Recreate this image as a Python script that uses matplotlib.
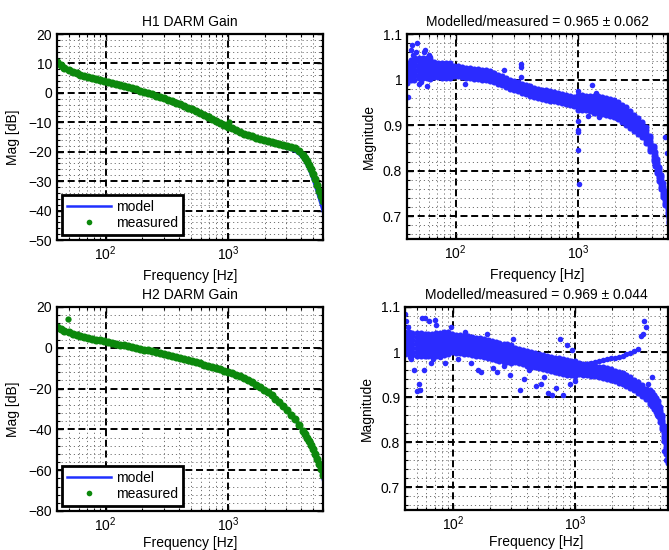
import numpy as np
import matplotlib
matplotlib.use('Agg')
import matplotlib.pyplot as plt
from matplotlib.ticker import LogLocator, MultipleLocator, NullFormatter, FuncFormatter

plt.rcParams['font.family'] = ['Liberation Sans', 'DejaVu Sans']
plt.rcParams['font.size'] = 10

# swept-sine frequency points [Hz]
freq = [40, 43, 46, 50, 54, 58, 62, 67, 72, 78,
        84, 90, 97, 105, 113, 122, 131, 141, 152, 164,
        177, 191, 206, 222, 239, 258, 278, 300, 323, 348,
        375, 405, 436, 470, 507, 546, 589, 635, 684, 737,
        795, 857, 924, 996, 1074, 1157, 1248, 1345, 1450, 1563,
        1685, 1816, 1958, 2110, 2275, 2452, 2643, 2850, 3072, 3311,
        3569, 3848, 4148, 4300, 4471, 4640, 4820, 5000, 5195, 5400,
        5600, 5800, 6000]

# H1 model gain [dB] and modelled/measured ratio
h1_model_db = [10.6, 9.6, 8.7, 8.0, 7.3, 6.8, 6.3, 5.9, 5.5, 5.2,
               4.9, 4.6, 4.3, 4.0, 3.6, 3.2, 2.8, 2.5, 2.1, 1.7,
               1.3, 0.8, 0.4, 0.0, -0.5, -1.0, -1.5, -2.0, -2.4, -3.0,
               -3.5, -4.1, -4.7, -5.3, -5.9, -6.5, -7.2, -7.8, -8.5, -9.1,
               -9.8, -10.5, -11.2, -11.9, -12.5, -13.1, -13.7, -14.3, -14.8, -15.3,
               -15.8, -16.3, -16.7, -17.1, -17.5, -17.9, -18.2, -18.6, -19.0, -19.4,
               -20.0, -21.0, -22.6, -23.7, -25.0, -26.5, -28.2, -30.0, -32.0, -34.1,
               -36.3, -38.4, -40.5]
h1_ratio = [1.015, 1.020, 1.022, 1.025, 1.025, 1.025, 1.024, 1.022, 1.021, 1.020,
            1.020, 1.020, 1.019, 1.018, 1.016, 1.015, 1.014, 1.013, 1.012, 1.011,
            1.009, 1.007, 1.004, 1.001, 0.998, 0.994, 0.990, 0.987, 0.984, 0.981,
            0.978, 0.975, 0.972, 0.970, 0.968, 0.966, 0.964, 0.962, 0.960, 0.958,
            0.956, 0.954, 0.952, 0.950, 0.950, 0.949, 0.948, 0.946, 0.945, 0.943,
            0.941, 0.939, 0.936, 0.932, 0.926, 0.920, 0.913, 0.905, 0.898, 0.890,
            0.878, 0.860, 0.838, 0.825, 0.810, 0.793, 0.775, 0.757, 0.740, 0.720,
            0.700, 0.680, 0.660]
h1_spread = [0.022]*7 + [0.016]*5 + [0.011]*10 + [0.010]*21 + [0.016]*4 + [0.019]*10 + [0.017]*6 + [0.015]*10
h1_out_f = [41, 43, 44, 45, 46, 47, 48, 50, 52, 55, 56, 58, 60, 62, 120, 250, 345, 345, 345,
            1000, 1005, 1010, 1010, 1015, 1000, 1300, 1400, 1200, 1500, 1600, 5170, 5300]
h1_out_r = [0.962, 1.065, 1.075, 1.055, 1.050, 1.060, 1.080, 0.990, 0.995, 1.060, 1.065, 0.985, 1.055, 1.050,
            0.990, 1.022, 1.035, 1.028, 1.005, 0.910, 0.890, 0.885, 0.845, 0.770, 0.975, 0.988, 0.970,
            0.920, 0.918, 0.935, 0.875, 0.838]
h1_meas_out_f = [680, 700, 1005, 1010, 1015]
h1_meas_out_db = [-7.7, -8.0, -10.9, -10.5, -9.8]

# H2 model gain [dB] and modelled/measured ratio
h2_model_db = [10.5, 9.5, 8.6, 7.8, 7.1, 6.6, 6.1, 5.6, 5.1, 4.6,
               4.2, 3.8, 3.4, 3.0, 2.6, 2.1, 1.7, 1.3, 0.9, 0.4,
               0.0, -0.4, -0.8, -1.2, -1.6, -2.1, -2.6, -3.1, -3.6, -4.1,
               -4.6, -5.1, -5.7, -6.2, -6.8, -7.3, -7.9, -8.5, -9.1, -9.7,
               -10.3, -10.9, -11.5, -12.2, -12.9, -13.6, -14.4, -15.3, -16.3, -17.3,
               -18.4, -19.6, -20.9, -22.3, -23.8, -25.5, -27.3, -29.2, -31.3, -33.5,
               -35.9, -38.6, -41.6, -43.2, -45.0, -46.9, -48.9, -51.0, -53.4, -56.0,
               -58.8, -61.8, -65.0]
h2_ratio = [1.020, 1.020, 1.018, 1.017, 1.017, 1.016, 1.016, 1.016, 1.017, 1.018,
            1.019, 1.020, 1.020, 1.019, 1.018, 1.016, 1.015, 1.013, 1.012, 1.011,
            1.009, 1.007, 1.005, 1.003, 1.001, 0.999, 0.997, 0.995, 0.993, 0.991,
            0.989, 0.986, 0.984, 0.982, 0.980, 0.978, 0.976, 0.974, 0.972, 0.970,
            0.968, 0.966, 0.965, 0.964, 0.963, 0.962, 0.961, 0.960, 0.958, 0.956,
            0.954, 0.952, 0.950, 0.947, 0.944, 0.941, 0.937, 0.932, 0.927, 0.921,
            0.914, 0.907, 0.900, 0.896, 0.890, 0.883, 0.875, 0.862, 0.845, 0.820,
            0.790, 0.770, 0.750]
h2_spread = [0.025]*12 + [0.020]*16 + [0.016]*16 + [0.012]*18 + [0.016]*11
h2_branch_f = [1074, 1157, 1248, 1345, 1450, 1563, 1685, 1816, 1958, 2110, 2275, 2452, 2643, 2850, 3072, 3311]
h2_branch_r = [0.970, 0.972, 0.974, 0.976, 0.978, 0.980, 0.982, 0.984, 0.986, 0.988, 0.990, 0.992, 0.995, 0.998, 1.002, 1.008]
h2_out_f = [40, 41, 42, 44, 45, 47, 50, 52, 53, 55, 57, 58, 60, 63, 65, 68, 70, 72, 78, 85, 95, 110, 125,
            140, 160, 170, 190, 210, 230, 260, 290, 310, 350, 380, 420, 480, 520, 560, 600, 650, 700,
            750, 800, 850, 900, 950, 1000, 3500, 3600, 3700, 3800, 4000, 4300, 4500, 4700, 5400, 5600]
h2_out_r = [1.085, 1.070, 1.055, 0.990, 0.985, 0.960, 0.913, 0.930, 0.916, 1.075, 0.960, 1.076, 1.040, 1.070,
            0.975, 0.985, 1.072, 1.060, 0.990, 0.975, 1.055, 0.985, 1.045, 0.975, 0.960, 0.955, 1.040,
            0.965, 0.955, 0.970, 0.950, 1.030, 0.915, 0.940, 0.960, 0.925, 0.930, 0.945, 0.910, 0.905,
            0.920, 1.030, 0.905, 1.015, 0.930, 1.005, 0.935, 1.035, 1.040, 1.068, 1.055, 0.930, 0.945,
            0.900, 0.860, 0.780, 0.760]
h2_meas_out_f = [49]
h2_meas_out_db = [14.2]

BLUE = '#2b2bff'
LINE_BLUE = '#2030ff'
GREEN = '#0c880c'


def style_axes(ax, xmax, ymin, ymax, ymajor, yminor, xlabelpad):
    ax.set_xscale('log')
    ax.set_xlim(40, xmax)
    ax.set_ylim(ymin, ymax)
    ax.yaxis.set_major_locator(MultipleLocator(ymajor))
    ax.yaxis.set_minor_locator(MultipleLocator(yminor))
    ax.xaxis.set_major_locator(LogLocator(base=10, numticks=10))
    ax.xaxis.set_minor_locator(LogLocator(base=10, subs=np.arange(2, 10), numticks=20))
    ax.xaxis.set_minor_formatter(NullFormatter())
    ax.grid(True, which='major', color='k', linestyle=(0, (3.6, 1.9)), linewidth=1.4)
    ax.grid(True, which='minor', color='0.45', linestyle=(0, (1.2, 3)), linewidth=0.7)
    ax.set_axisbelow(True)
    for sp in ax.spines.values():
        sp.set_linewidth(1.6)
    ax.tick_params(which='both', direction='in', top=True, right=True)
    ax.tick_params(which='major', length=4, width=1)
    ax.tick_params(which='minor', length=2, width=0.8)
    ax.set_xlabel('Frequency [Hz]', labelpad=xlabelpad)


def gain_panel(ax, title, model_db, ratio, out_f, out_db, ymin, ymax, ymajor, yminor, xlabelpad):
    model_db = np.array(model_db)
    meas_db = model_db - 20 * np.log10(np.array(ratio))
    ax.plot(freq, model_db, color=LINE_BLUE, lw=1.8, label='model')
    ax.plot(freq, meas_db, 'o', color=GREEN, ms=5.8, mew=0, label='measured')
    ax.plot(out_f, out_db, 'o', color=GREEN, ms=4.5, mew=0)
    style_axes(ax, 6000, ymin, ymax, ymajor, yminor, xlabelpad)
    ax.set_title(title, fontsize=10)
    ax.set_ylabel('Mag [dB]', labelpad=6)
    leg = ax.legend(loc='lower left', bbox_to_anchor=(0.019, 0.024), borderaxespad=0,
                    fancybox=False, framealpha=1, edgecolor='k', handlelength=3.2,
                    handletextpad=0.35, borderpad=0.35, labelspacing=0.15, markerscale=0.7)
    leg.get_frame().set_linewidth(2)


def ratio_panel(ax, title, xmax, ratio, spread, out_f, out_r, xlabelpad, extra_f=None, extra_r=None):
    ratio = np.array(ratio)
    spread = np.array(spread)
    for s in (-1, -0.67, -0.33, 0, 0.33, 0.67, 1):
        ax.plot(freq, ratio + s * spread, 'o', color=BLUE, ms=4.4, mew=0)
    ax.plot(out_f, out_r, 'o', color=BLUE, ms=4.0, mew=0)
    if extra_f is not None:
        ax.plot(extra_f, extra_r, 'o', color=BLUE, ms=4.0, mew=0)
    style_axes(ax, xmax, 0.65, 1.1, 0.1, 0.02, xlabelpad)
    ax.yaxis.set_major_formatter(FuncFormatter(lambda v, p: '%g' % round(v, 2)))
    ax.set_title(title, fontsize=10)
    ax.set_ylabel('Magnitude', labelpad=5)


W, H = 669, 550
fig = plt.figure(figsize=(W / 100, H / 100), dpi=100)

ax1 = fig.add_axes([57 / W, (H - 240) / H, 266 / W, 206 / H])
ax2 = fig.add_axes([407 / W, (H - 239) / H, 261 / W, 205 / H])
ax3 = fig.add_axes([57 / W, (H - 511) / H, 266 / W, 204 / H])
ax4 = fig.add_axes([405 / W, (H - 510) / H, 263 / W, 203 / H])

gain_panel(ax1, 'H1 DARM Gain', h1_model_db, h1_ratio, h1_meas_out_f, h1_meas_out_db, -50, 20, 10, 2, 4)
ratio_panel(ax2, 'Modelled/measured = 0.965 \u00b1 0.062', 5450, h1_ratio, h1_spread, h1_out_f, h1_out_r, 4)
gain_panel(ax3, 'H2 DARM Gain', h2_model_db, h2_ratio, h2_meas_out_f, h2_meas_out_db, -80, 20, 20, 4, 1)
ratio_panel(ax4, 'Modelled/measured = 0.969 \u00b1 0.044', 5800, h2_ratio, h2_spread, h2_out_f, h2_out_r, 1,
            h2_branch_f, h2_branch_r)

fig.savefig('out.png', dpi=100)
